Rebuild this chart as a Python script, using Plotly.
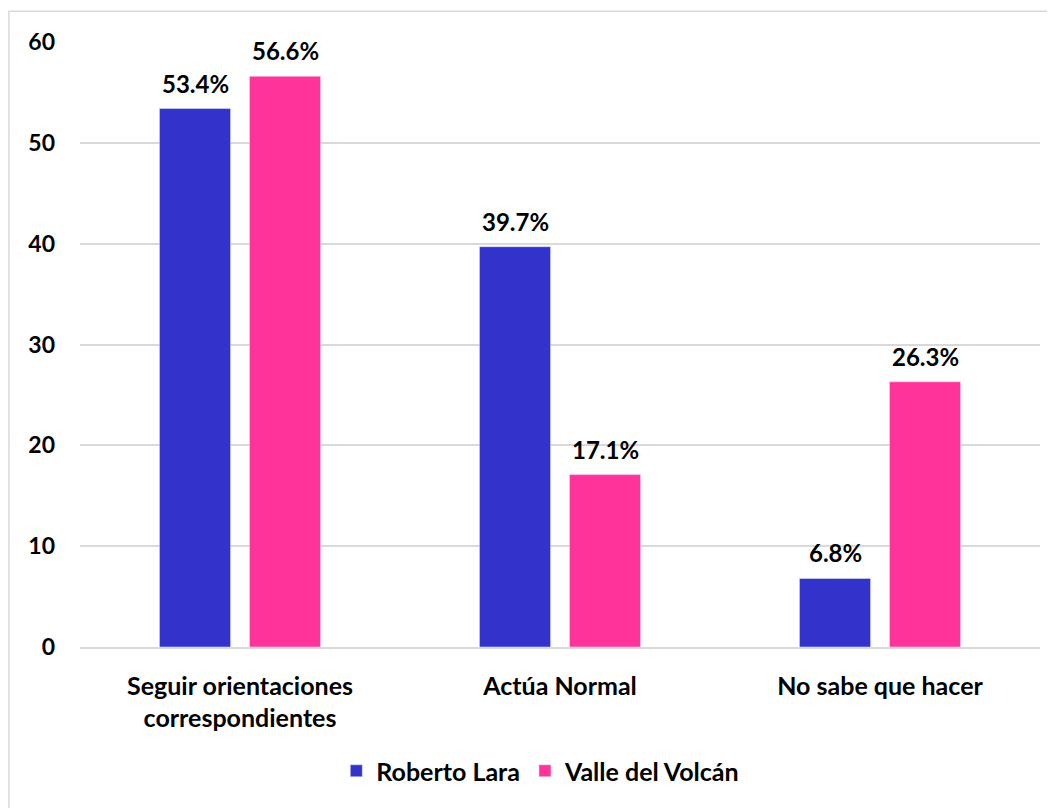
import plotly.graph_objects as go

categories = ['Seguir orientaciones<br>correspondientes', 'Actúa Normal', 'No sabe que hacer']
roberto_lara = [53.4, 39.7, 6.8]
valle_volcan = [56.6, 17.1, 26.3]
y_ticks = [0, 10, 20, 30, 40, 50, 60]

FONT = 'Lato, Carlito, Calibri, sans-serif'

fig = go.Figure()
fig.add_trace(go.Bar(x=categories, y=roberto_lara, name='Roberto Lara',
                     marker=dict(color='#3333CC')))
fig.add_trace(go.Bar(x=categories, y=valle_volcan, name='Valle del Volcán',
                     marker=dict(color='#FF3399')))

# value labels sit a little above each bar
for vals, shift in [(roberto_lara, -45), (valle_volcan, 45)]:
    for cat, v in zip(categories, vals):
        fig.add_annotation(x=cat, y=v, text=f'{v:.1f}%', showarrow=False,
                           xshift=shift, yshift=9, yanchor='bottom',
                           font=dict(size=24, color='black', family=FONT, weight='bold'))

fig.update_layout(
    width=1047, height=800,
    margin=dict(l=72, r=15, t=34, b=161),
    plot_bgcolor='white', paper_bgcolor='white',
    font=dict(family=FONT, size=24, color='black', weight='bold'),
    barmode='group', bargap=0.4375, bargroupgap=0.21,
    showlegend=True,
    legend=dict(orientation='h', x=0.48, xanchor='center', y=-0.205, yanchor='middle',
                font=dict(size=25, family=FONT, weight='bold'), itemwidth=30,
                traceorder='normal'),
    yaxis=dict(range=[0, 60], tickvals=y_ticks, showgrid=True, gridcolor='#D9D9D9',
               gridwidth=1.5, zeroline=False, ticks='', ticklabelstandoff=24,
               tickfont=dict(size=23, family=FONT, weight='bold')),
    xaxis=dict(showline=True, linecolor='#D9D9D9', linewidth=1.5, ticks='',
               ticklabelstandoff=16,
               tickfont=dict(size=25, family=FONT, weight='bold')),
    shapes=[dict(type='rect', xref='paper', yref='paper', x0=-0.074, x1=1.05,
                 y0=-0.3, y1=1.051, line=dict(color='#D9D9D9', width=1.5),
                 fillcolor='rgba(0,0,0,0)', layer='below')]
)

fig.write_html('out.html')
